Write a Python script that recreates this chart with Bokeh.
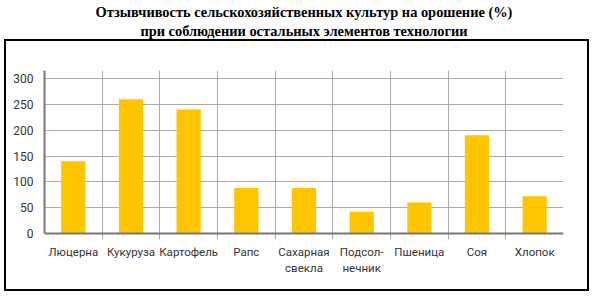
from bokeh.plotting import figure
from bokeh.models import Range1d, FixedTicker, Span, Title, InlineStyleSheet
from bokeh.embed import file_html
from bokeh.resources import INLINE

# ---- data ----
categories = ["Люцерна", "Кукуруза", "Картофель", "Рапс", "Сахарная\nсвекла",
              "Подсол-\nнечник", "Пшеница", "Соя", "Хлопок"]
values = [140, 260, 240, 88, 88, 42, 60, 190, 72]
y_ticks = [0, 50, 100, 150, 200, 250, 300]
title_line1 = "Отзывчивость сельскохозяйственных культур на орошение (%)"
title_line2 = "при соблюдении остальных элементов технологии"

n = len(categories)
centers = [i + 0.5 for i in range(n)]
boundaries = list(range(1, n + 1))

frame_css = InlineStyleSheet(css="""
:host { position: relative; }
:host::after {
  content: ''; position: absolute; left: 4px; top: 39px;
  width: 581px; height: 248px; border: 2px solid black;
  pointer-events: none; box-sizing: content-box;
}
""")

p = figure(width=593, height=298, output_backend="svg", toolbar_location=None,
           title=None,
           x_range=Range1d(0, n), y_range=Range1d(-11.5, 315.4),
           min_border_left=44, min_border_right=30,
           min_border_top=69, min_border_bottom=59,
           stylesheets=[frame_css])

title_style = dict(align="center", text_font="Liberation Serif",
                   text_font_style="bold", text_font_size="14.4px",
                   text_color="black")
# spacer between frame and the titles
p.add_layout(Title(text=" ", standoff=14, **title_style), "above")
p.add_layout(Title(text=title_line2, standoff=0, **title_style), "above")
p.add_layout(Title(text=title_line1, standoff=2, **title_style), "above")

p.outline_line_color = None
p.background_fill_color = "white"
p.border_fill_color = "white"

# bars
p.vbar(x=centers, top=values, width=0.42, bottom=0,
       fill_color="#FFC600", line_color=None)

# grids
p.xgrid.ticker = FixedTicker(ticks=boundaries)
p.xgrid.grid_line_color = "#AAAAAA"
p.xgrid.grid_line_width = 1
p.ygrid.ticker = FixedTicker(ticks=y_ticks)
p.ygrid.grid_line_color = "#AAAAAA"
p.ygrid.grid_line_width = 1

# x axis line at 0
p.add_layout(Span(location=0, dimension="width", line_color="#777777", line_width=2))

# x axis (labels only)
xa = p.xaxis[0]
xa.ticker = FixedTicker(ticks=centers)
xa.major_label_overrides = {c: lab for c, lab in zip(centers, categories)}
xa.axis_line_color = None
xa.major_tick_line_color = None
xa.minor_tick_line_color = None
xa.major_label_standoff = -1
xa.major_label_text_font = "Roboto"
xa.major_label_text_font_size = "11.5px"
xa.major_label_text_color = "#333333"

# y axis
ya = p.yaxis[0]
ya.ticker = FixedTicker(ticks=y_ticks)
ya.bounds = (0, 315.4)
ya.axis_line_color = "#777777"
ya.axis_line_width = 2
ya.major_tick_line_color = None
ya.minor_tick_line_color = None
ya.major_label_standoff = 5
ya.major_label_text_font = "Roboto"
ya.major_label_text_font_size = "12px"
ya.major_label_text_color = "#333333"

open("out.html", "w").write(file_html(p, INLINE))
